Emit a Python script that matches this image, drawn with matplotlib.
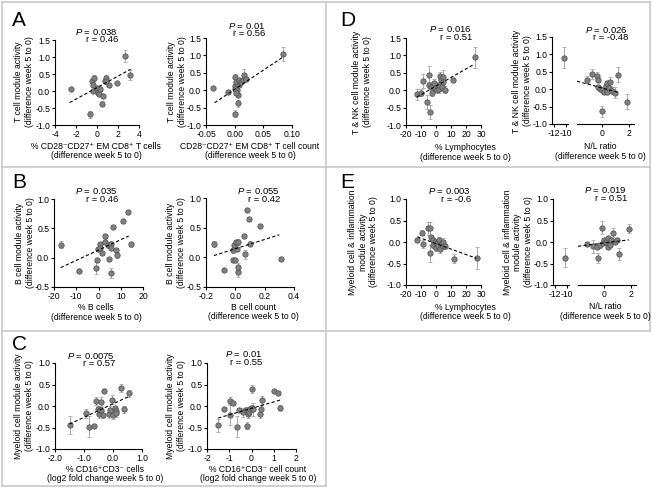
import matplotlib
matplotlib.use("Agg")
import matplotlib.pyplot as plt
from matplotlib.lines import Line2D
from matplotlib.ticker import FormatStrFormatter, FixedLocator

plt.rcParams['font.family'] = ['Liberation Sans', 'DejaVu Sans']
plt.rcParams['mathtext.fontset'] = 'custom'
plt.rcParams['mathtext.rm'] = 'Liberation Sans'
plt.rcParams['mathtext.it'] = 'Liberation Sans:italic'
plt.rcParams['axes.unicode_minus'] = False

# ---------------- data ----------------
# A left: % CD28-CD27+ EM CD8+ T cells vs T cell module
a1_x = [-2.5, -0.65, -0.45, -0.4, -0.25, -0.35, 0.0, 0.1, 0.2, 0.3, 0.6, 0.5, 0.75, 0.9, 1.1, 0.9, 1.95, 2.65, 3.1]
a1_y = [0.05, -0.68, 0.3, 0.18, 0.38, 0.0, 0.1, -0.05, -0.1, 0.05, -0.15, -0.37, 0.3, 0.38, 0.18, 0.28, 0.25, 1.02, 0.48]
a1_e = [0.03, 0.1, 0.05, 0.05, 0.1, 0.04, 0.05, 0.04, 0.04, 0.04, 0.06, 0.08, 0.06, 0.1, 0.06, 0.06, 0.05, 0.18, 0.15]
a1_fit_x = [-2.6, 3.2]
a1_fit_y = [-0.34, 0.64]

# A right: CD28-CD27+ EM CD8+ T cell count
a2_x = [-0.037, -0.011, 0.0, 0.0, 0.001, 0.003, 0.004, 0.005, 0.005, 0.007, 0.008, 0.011, 0.015, 0.017, 0.02, 0.001, 0.003, 0.085]
a2_y = [0.06, -0.06, -0.68, 0.12, 0.37, 0.25, 0.0, -0.13, -0.37, 0.15, 0.3, 0.25, 0.3, 0.45, 0.32, 0.03, -0.09, 1.03]
a2_e = [0.03, 0.03, 0.1, 0.05, 0.1, 0.06, 0.04, 0.05, 0.1, 0.05, 0.05, 0.05, 0.05, 0.15, 0.06, 0.04, 0.04, 0.2]
a2_fit_x = [-0.035, 0.084]
a2_fit_y = [-0.36, 0.95]

# B left: % B cells
b1_x = [-17, -8.7, -1.3, -0.7, -0.4, 0.5, 0.6, 1.6, 3, 3, 4.2, 4.8, 5.4, 5.4, 5.8, 6.4, 7.9, 8.1, 11, 13.4, 14.5]
b1_y = [0.22, -0.23, -0.17, -0.04, 0.14, 0.24, 0.17, 0.08, 0.37, 0.27, 0.21, -0.03, -0.26, 0.23, 0.17, 0.52, 0.13, 0.05, 0.63, 0.78, 0.23]
b1_e = [0.06, 0.03, 0.1, 0.03, 0.03, 0.03, 0.03, 0.03, 0.04, 0.04, 0.05, 0.02, 0.08, 0.06, 0.03, 0.02, 0.04, 0.05, 0.02, 0.03, 0.04]
b1_fit_x = [-17, 13.6]
b1_fit_y = [-0.17, 0.37]

# B right: B cell count
b2_x = [-0.146, -0.078, -0.013, -0.013, -0.008, -0.002, 0.007, 0.01, 0.016, 0.02, 0.02, 0.06, 0.068, 0.082, 0.093, 0.1, 0.168, 0.308]
b2_y = [0.23, -0.22, 0.12, -0.04, 0.2, -0.05, 0.26, 0.14, -0.25, -0.16, 0.26, 0.36, 0.05, 0.79, 0.64, 0.23, 0.53, -0.02]
b2_e = [0.05, 0.03, 0.04, 0.03, 0.04, 0.03, 0.04, 0.03, 0.08, 0.06, 0.05, 0.04, 0.08, 0.03, 0.03, 0.04, 0.02, 0.02]
b2_fit_x = [-0.146, 0.30]
b2_fit_y = [0.03, 0.38]

# C left: % CD16+CD3- cells
c1_x = [-1.5, -0.93, -0.83, -0.65, -0.58, -0.52, -0.5, -0.44, -0.42, -0.4, -0.31, -0.33, -0.13, -0.1, -0.03, 0.0, 0.08, 0.1, 0.1, 0.27, 0.37, 0.54]
c1_y = [-0.44, -0.17, -0.48, -0.46, 0.12, -0.08, -0.19, -0.09, 0.1, -0.09, 0.35, -0.2, -0.19, -0.09, 0.15, -0.2, -0.05, -0.12, -0.17, 0.42, -0.08, 0.3]
c1_e = [0.2, 0.1, 0.25, 0.05, 0.1, 0.08, 0.1, 0.06, 0.1, 0.06, 0.04, 0.08, 0.1, 0.08, 0.1, 0.1, 0.06, 0.08, 0.08, 0.1, 0.08, 0.08]
c1_fit_x = [-1.5, 0.54]
c1_fit_y = [-0.42, 0.22]

# C right: % CD16+CD3- cell count
c2_x = [-1.5, -1.24, -0.97, -0.85, -0.97, -0.64, -0.58, -0.37, -0.25, -0.2, -0.16, -0.1, -0.05, 0.0, 0.02, 0.05, 0.4, 0.43, 0.47, 1.02, 1.2, 1.3]
c2_y = [-0.45, -0.08, 0.12, 0.08, -0.2, -0.48, -0.09, -0.15, -0.09, -0.46, -0.19, -0.15, -0.07, -0.04, 0.4, -0.08, -0.19, -0.08, 0.14, 0.34, 0.3, -0.04]
c2_e = [0.15, 0.04, 0.1, 0.04, 0.25, 0.25, 0.04, 0.1, 0.06, 0.08, 0.08, 0.06, 0.06, 0.06, 0.1, 0.15, 0.1, 0.1, 0.1, 0.02, 0.05, 0.06]
c2_fit_x = [-1.5, 1.3]
c2_fit_y = [-0.28, 0.14]

# D left: % Lymphocytes vs T & NK module
d1_x = [-12.9, -10, -8.9, -5.8, -4.9, -4.4, -3.8, -3.3, -2.7, -1.8, -1.1, -0.4, 0.4, 1.1, 1.8, 2.2, 2.7, 3.6, 4, 4.9, 4.4, 6, 11.5, 26]
d1_y = [-0.12, -0.07, 0.27, -0.35, 0.15, 0.44, -0.62, 0.09, -0.07, 0.15, 0.22, 0.06, 0.01, 0.09, 0.03, 0.14, 0.41, 0.3, 0.09, 0.39, 0.25, 0.01, 0.3, 0.94]
d1_e = [0.15, 0.1, 0.2, 0.2, 0.1, 0.25, 0.2, 0.1, 0.1, 0.1, 0.1, 0.05, 0.05, 0.1, 0.1, 0.1, 0.1, 0.1, 0.1, 0.2, 0.1, 0.1, 0.06, 0.3]
d1_fit_x = [-12.9, 24.4]
d1_fit_y = [-0.2, 0.72]

# D right: N/L ratio vs T & NK module (outlier on broken segment)
d2_x = [-10.3, -1.18, -0.75, -0.38, -0.3, -0.3, -0.2, -0.05, 0, 0.12, 0.25, 0.37, 0.37, 0.5, 0.62, 0.75, 1.0, 1.2, 1.88]
d2_y = [0.9, 0.27, 0.44, 0.38, 0.27, 0.06, 0.0, -0.64, -0.02, -0.07, 0.1, 0.17, -0.07, 0.03, 0.22, -0.04, -0.1, 0.42, -0.36]
d2_e = [0.3, 0.1, 0.15, 0.1, 0.05, 0.05, 0.05, 0.17, 0.05, 0.05, 0.05, 0.05, 0.05, 0.05, 0.12, 0.1, 0.15, 0.22, 0.22]
d2_fit_x = [-1.9, 1.3]
d2_fit_y = [0.23, -0.1]

# E left: % Lymphocytes vs Myeloid & inflammation module
e1_x = [-12.4, -9.6, -8.4, -5.1, -4.0, -4.0, -3.3, -2.2, -1.8, -0.7, 0.0, 0.4, 1.6, 2.2, 2.7, 3.8, 4.4, 4.9, 6.0, 12, 27]
e1_y = [0.05, 0.22, -0.05, 0.32, 0.32, -0.26, 0.11, 0.05, -0.07, 0.01, -0.14, -0.03, -0.09, 0.05, -0.17, -0.03, -0.09, 0.01, -0.1, -0.39, -0.37]
e1_e = [0.05, 0.05, 0.1, 0.15, 0.15, 0.2, 0.06, 0.05, 0.08, 0.06, 0.08, 0.06, 0.06, 0.06, 0.08, 0.06, 0.06, 0.08, 0.06, 0.1, 0.25]
e1_fit_x = [-12.4, 27]
e1_fit_y = [0.12, -0.38]

# E right: N/L ratio vs Myeloid & inflammation module
e2_x = [-10.3, -1.25, -0.8, -0.47, -0.42, -0.15, -0.25, -0.08, 0.05, 0.18, 0.3, 0.36, 0.5, 0.57, 0.7, 0.83, 0.96, 1.14, 1.87]
e2_y = [-0.37, -0.05, -0.1, -0.12, -0.37, 0.33, -0.08, -0.03, 0.05, 0.01, 0.09, -0.12, -0.06, 0.05, 0.22, 0.01, 0.05, -0.28, 0.31]
e2_e = [0.22, 0.05, 0.15, 0.05, 0.12, 0.15, 0.05, 0.05, 0.05, 0.05, 0.05, 0.05, 0.05, 0.05, 0.1, 0.05, 0.05, 0.15, 0.1]
e2_fit_x = [-1.9, 1.87]
e2_fit_y = [-0.1, 0.05]

# ---------------- figure ----------------
W, H = 652, 492
fig = plt.figure(figsize=(W / 100, H / 100), dpi=100)
FS = 6.2

def ax_px(l, t, r, b):
    return fig.add_axes([l / W, 1 - b / H, (r - l) / W, (b - t) / H])

def style(ax, left=True):
    for s in ['top', 'right']:
        ax.spines[s].set_visible(False)
    ax.spines['left'].set_visible(left)
    for s in ['left', 'bottom']:
        ax.spines[s].set_linewidth(0.8)
    ax.tick_params(length=2.5, width=0.8, labelsize=FS, pad=1.0)
    ax.patch.set_alpha(0)
    if not left:
        ax.tick_params(axis='y', left=False, labelleft=False)

def draw(ax, x, y, e, fx, fy):
    ax.errorbar(x, y, yerr=e, fmt='o', ms=3.9, mfc='#808080', mec='#4f4f4f', mew=0.5,
                ecolor='#9a9a9a', elinewidth=0.6, capsize=1.5, capthick=0.6,
                clip_on=False, zorder=3)
    if fx is not None:
        ax.plot(fx, fy, ls=(0, (3, 2)), color='black', lw=0.8, zorder=4, clip_on=False)

def ptext(rx, py, ry, p, r):
    # P value and r as one two-line text block, right aligned
    fig.text(rx / W, 1 - (py + ry) / 2 / H, r'$\it{P}$ = ' + p + '\n' + 'r = ' + r,
             ha='right', va='center', multialignment='right', fontsize=FS + 0.6,
             linespacing=0.72)

def ylab(x, y, s):
    fig.text(x / W, 1 - y / H, s, rotation=90, ha='center', va='center',
             fontsize=FS, multialignment='center', linespacing=1.15)

def xlab(x, y1, y2, s1, s2):
    # y values are the visual centres of each line; place on baseline
    fig.text(x / W, 1 - (y1 + 3) / H, s1, ha='center', va='baseline', fontsize=FS)
    fig.text(x / W, 1 - (y2 + 3) / H, s2, ha='center', va='baseline', fontsize=FS)

def simple(l, t, r, b, x, y, e, fx, fy, xlim, ylim, xt, xfmt, yt):
    ax = ax_px(l, t, r, b)
    style(ax)
    draw(ax, x, y, e, fx, fy)
    ax.set_xlim(*xlim)
    ax.set_ylim(*ylim)
    ax.xaxis.set_major_locator(FixedLocator(xt))
    ax.xaxis.set_major_formatter(FormatStrFormatter(xfmt))
    ax.yaxis.set_major_locator(FixedLocator(yt))
    ax.yaxis.set_major_formatter(FormatStrFormatter('%.1f'))
    return ax

def broken(l1, r1, l2, r2, t, b, x, y, e, fx, fy, ylim, yt):
    axL = ax_px(l1, t, r1, b)
    style(axL)
    axR = ax_px(l2, t, r2, b)
    style(axR, left=False)
    xl = [v for v in x if v < -5]
    yl = [y[i] for i, v in enumerate(x) if v < -5]
    el = [e[i] for i, v in enumerate(x) if v < -5]
    xr = [v for v in x if v >= -5]
    yr = [y[i] for i, v in enumerate(x) if v >= -5]
    er = [e[i] for i, v in enumerate(x) if v >= -5]
    draw(axL, xl, yl, el, None, None)
    draw(axR, xr, yr, er, fx, fy)
    axL.set_xlim(-12.3, -9.7)
    axR.set_xlim(-1.9, 2.4)
    for a in (axL, axR):
        a.set_ylim(*ylim)
    axL.xaxis.set_major_locator(FixedLocator([-12, -10]))
    axR.xaxis.set_major_locator(FixedLocator([0, 2]))
    axL.yaxis.set_major_locator(FixedLocator(yt))
    axL.yaxis.set_major_formatter(FormatStrFormatter('%.1f'))
    return axL, axR

y15 = [-1.0, -0.5, 0.0, 0.5, 1.0, 1.5]
y10 = [-1.0, -0.5, 0.0, 0.5, 1.0]
yb = [-0.5, 0.0, 0.5, 1.0]

# Panel A
simple(55, 40, 139, 125, a1_x, a1_y, a1_e, a1_fit_x, a1_fit_y, (-4, 4), (-1, 1.5), [-4, -2, 0, 2, 4], '%d', y15)
simple(206, 38, 292, 125, a2_x, a2_y, a2_e, a2_fit_x, a2_fit_y, (-0.05, 0.10), (-1, 1.5), [-0.05, 0.0, 0.05, 0.10], '%.2f', y15)
# Panel B
simple(54, 199, 143, 287, b1_x, b1_y, b1_e, b1_fit_x, b1_fit_y, (-20, 20), (-0.5, 1.0), [-20, -10, 0, 10, 20], '%d', yb)
simple(206, 198, 294, 287, b2_x, b2_y, b2_e, b2_fit_x, b2_fit_y, (-0.2, 0.4), (-0.5, 1.0), [-0.2, 0.0, 0.2, 0.4], '%.1f', yb)
# Panel C
simple(55, 363, 142, 449, c1_x, c1_y, c1_e, c1_fit_x, c1_fit_y, (-2, 1), (-1, 1), [-2, -1, 0, 1], '%.1f', y10)
simple(207, 363, 296, 449, c2_x, c2_y, c2_e, c2_fit_x, c2_fit_y, (-2, 2), (-1, 1), [-2, -1, 0, 1, 2], '%d', y10)
# Panel D
simple(406, 38, 481, 125, d1_x, d1_y, d1_e, d1_fit_x, d1_fit_y, (-20, 30), (-1, 1.5), [-20, -10, 0, 10, 20, 30], '%d', y15)
broken(552, 568, 577, 634, 37, 124, d2_x, d2_y, d2_e, d2_fit_x, d2_fit_y, (-1, 1.5), y15)
# Panel E
simple(406, 199, 481, 285, e1_x, e1_y, e1_e, e1_fit_x, e1_fit_y, (-20, 30), (-1, 1), [-20, -10, 0, 10, 20, 30], '%d', y10)
broken(553, 569, 578, 636, 199, 285, e2_x, e2_y, e2_e, e2_fit_x, e2_fit_y, (-1, 1), y10)

# statistics text
ptext(118, 32, 39, '0.038', '0.46')
ptext(265, 26, 33, '0.01', '0.56')
ptext(118, 192, 198, '0.035', '0.46')
ptext(280, 192, 198, '0.055', '0.42')
ptext(115, 356, 363, '0.0075', '0.57')
ptext(262, 354, 362, '0.01', '0.55')
ptext(472, 29, 37, '0.016', '0.51')
ptext(628, 30, 37, '0.026', '-0.48')
ptext(471, 192, 198, '0.003', '-0.6')
ptext(627, 191, 197, '0.019', '0.51')

# axis labels
diff = '(difference week 5 to 0)'
logfc = '(log2 fold change week 5 to 0)'
ylab(24, 82, 'T cell module activity\n' + diff)
ylab(177, 82, 'T cell module activity\n' + diff)
ylab(25, 243, 'B cell module activity\n' + diff)
ylab(176, 243, 'B cell module activity\n' + diff)
ylab(24, 406, 'Myeloid cell module activity\n' + diff)
ylab(176, 406, 'Myeloid cell module activity\n' + diff)
ylab(362, 82, 'T & NK cell module activity\n' + diff)
ylab(522, 81, 'T & NK cell module activity\n' + diff)
ylab(363, 242, 'Myeloid cell & inflammation\nmodule activity\n' + diff)
ylab(518, 242, 'Myeloid cell & inflammation\nmodule activity\n' + diff)

xlab(96, 146, 155, '% CD28\u207bCD27\u207a EM CD8\u207a T cells', diff)
xlab(250, 146, 155, 'CD28\u207bCD27\u207a EM CD8\u207a T cell count', diff)
xlab(96, 307, 317, '% B cells', diff)
xlab(253, 307, 316, 'B cell count', diff)
xlab(105, 469, 478, '% CD16\u207aCD3\u207b cells', logfc)
xlab(258, 469, 478, '% CD16\u207aCD3\u207b cell count', logfc)
xlab(465, 147, 157, '% Lymphocytes', diff)
xlab(600, 146, 156, 'N/L ratio', diff)
xlab(465, 307, 316, '% Lymphocytes', diff)
xlab(605, 306, 316, 'N/L ratio', diff)

# panel letters
for L, x, y in [('A', 12, 21), ('B', 12, 183), ('C', 12, 345), ('D', 340, 21), ('E', 340, 183)]:
    fig.text(x / W, 1 - y / H, L, ha='left', va='center', fontsize=15)

# panel frames
frame_c = '#c8c8c8'
def seg(x0, y0, x1, y1):
    fig.add_artist(Line2D([x0 / W, x1 / W], [1 - y0 / H, 1 - y1 / H], color=frame_c, lw=1.2,
                          transform=fig.transFigure))
seg(2, 2, 650, 2)
seg(2, 2, 2, 486)
seg(2, 486, 326, 486)
seg(326, 2, 326, 486)
seg(650, 2, 650, 331)
seg(2, 167, 650, 167)
seg(2, 331, 650, 331)

fig.savefig('out.png', dpi=100)
